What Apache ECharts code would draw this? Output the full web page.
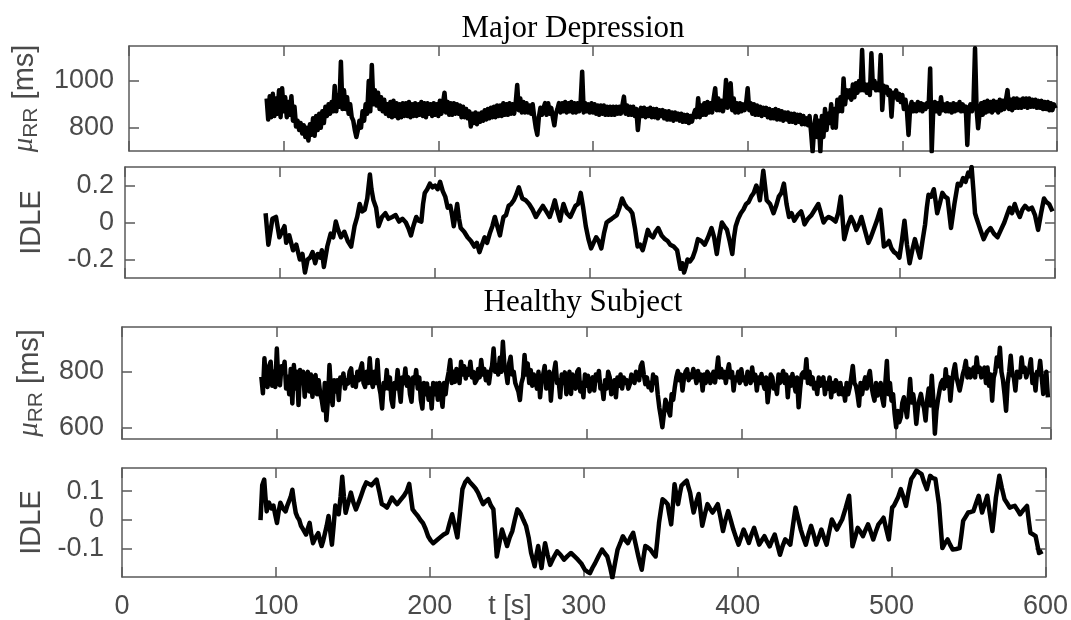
<!DOCTYPE html>
<html><head><meta charset="utf-8">
<script src="https://cdn.jsdelivr.net/npm/echarts@6/dist/echarts.min.js"></script>
<style>html,body{margin:0;padding:0;background:#fff}#c{width:1071px;height:620px}</style>
</head><body><div id="c"></div>
<script>
// ---------------- data ----------------
const titles = ['Major Depression', 'Healthy Subject'];
const xLabel = 't [s]';
const xTicks = [0, 100, 200, 300, 400, 500, 600];
const yTicksMu1 = [800, 1000];
const yTicksIdle1 = [-0.2, 0, 0.2];
const yTicksMu2 = [600, 800];
const yTicksIdle2 = [-0.1, 0, 0.1];
const yRangeMu1 = [700, 1150];
const yRangeIdle1 = [-0.3, 0.3];
const yRangeMu2 = [560, 960];
const yRangeIdle2 = [-0.197, 0.18];

// Major Depression, mu_RR [ms], one value per second starting at t = 89 s
const mdMuStart = 89;
const mdMu = [
925,835,935,845,945,850,925,860,960,845,
969,870,930,845,910,855,935,830,890,805,
830,790,820,775,810,760,800,745,815,770,
840,765,850,790,860,800,870,820,890,850,
900,860,910,870,979,870,940,890,1083,880,
960,880,930,860,900,845,830,790,760,790,
830,800,870,830,900,860,1000,870,1069,900,
960,895,950,880,930,870,920,860,900,850,
910,845,915,850,905,840,900,845,905,850,
905,850,910,845,900,850,905,850,900,855,
910,850,905,845,905,860,900,850,905,855,
900,850,915,860,905,950,865,910,855,905,
855,905,860,900,860,895,845,890,845,880,
840,870,805,860,820,865,815,860,825,865,
830,875,835,880,840,885,845,890,845,895,
850,895,850,905,855,900,855,905,860,900,
860,905,983,875,925,865,910,865,905,865,
895,860,900,845,800,769,845,885,855,885,
905,855,905,860,885,845,810,860,880,905,
865,905,870,910,865,905,870,910,865,905,
865,905,870,910,1040,865,905,870,900,865,
905,865,900,860,895,855,895,860,895,855,
890,855,890,855,890,855,890,860,890,860,
895,933,860,895,855,890,855,890,850,880,
790,860,885,850,885,845,880,850,885,845,
880,845,880,840,875,850,875,840,870,835,
870,835,865,830,865,835,860,830,860,825,
855,825,855,820,850,826,855,875,845,926,
845,895,855,905,855,910,865,905,865,925,
969,875,925,875,915,870,905,1004,885,925,
990,875,925,865,905,865,905,870,900,875,
905,969,875,905,860,900,855,895,855,890,
850,885,855,885,845,880,840,875,840,880,
835,875,835,870,830,865,835,865,825,860,
825,860,820,855,825,855,815,850,815,840,
810,850,780,697,800,850,760,830,697,850,
760,880,790,860,820,900,800,880,800,920,
870,930,870,1011,900,960,930,960,920,985,
930,990,950,1000,960,1133,960,985,950,985,
940,1119,970,1000,960,990,960,1111,876,980,
950,975,940,960,847,950,930,960,920,945,
910,940,880,920,870,769,880,910,870,900,
870,910,875,905,870,900,880,905,890,1054,
697,880,910,870,905,860,930,875,900,870,
905,870,900,865,905,870,900,875,910,870,
900,870,890,726,880,900,870,905,1140,880,
797,865,905,855,910,865,915,870,910,865,
915,875,910,865,920,875,915,880,920,961,
880,920,875,925,885,925,885,920,885,925,
890,925,885,925,890,920,890,920,885,915,
885,915,880,910,880,910,875,905,875,900,
883];

// Major Depression, IDLE  ([t, value])
const mdIdle = [[90.7,0.05],[92.5,-0.12],[95.1,0.02],[97.4,0.03],[99.6,-0.08],[102.9,-0.02],[104,-0.11],[106,-0.07],[108.4,-0.15],[110.5,-0.12],[112.8,-0.2],[114.5,-0.17],[116.1,-0.27],[117.8,-0.2],[119.4,-0.19],[121,-0.16],[122.7,-0.22],[124.3,-0.17],[126,-0.19],[127,-0.15],[128.3,-0.24],[130.5,-0.13],[132.7,-0.06],[134.3,-0.08],[136,0.005],[137.5,-0.04],[139.3,-0.08],[141.5,-0.05],[143.7,-0.1],[145.9,-0.13],[148.1,-0.02],[149.8,0.03],[151.4,0.1],[153,0.06],[154.7,0.07],[156.3,0.13],[158,0.26],[159,0.18],[160.3,0.12],[162,0.08],[163.6,-0.02],[165.8,0.03],[168,0.05],[170,0.02],[172.4,0.03],[174.6,0.04],[176.8,0.005],[179,0.02],[181.2,0],[182.8,-0.03],[184.5,-0.07],[186,-0.02],[187.9,0.03],[189.5,0.01],[191.2,0.005],[192.3,0.1],[193.4,0.16],[195,0.18],[196.7,0.21],[198.3,0.19],[200,0.2],[201.7,0.18],[203.3,0.22],[205,0.17],[206.6,0.14],[208.2,0.08],[209.9,0.09],[211,0.04],[212.1,-0.02],[213.2,0.04],[214.3,0.1],[215.5,0.02],[216.6,-0.03],[218.8,-0.05],[221,-0.08],[223.2,-0.1],[225.4,-0.13],[227,-0.11],[228.7,-0.16],[230.3,-0.12],[232,-0.08],[233.6,-0.11],[235.3,-0.06],[237,-0.02],[238.6,0.03],[240.2,-0.02],[241.9,-0.07],[243,-0.02],[244.2,0.03],[245.8,0.04],[247.5,0.09],[249.1,0.1],[250.8,0.12],[252.4,0.15],[254.1,0.19],[255.2,0.16],[256.3,0.13],[258.5,0.12],[260.7,0.1],[262.9,0.07],[265.1,0.03],[267.3,0.06],[269.6,0.09],[271.8,0.06],[274,0.03],[275.6,0.07],[277.3,0.12],[279,0.06],[280.7,0.01],[281.8,0.06],[282.9,0.1],[285,0.05],[287.3,0.03],[290.6,0.09],[292.3,0.1],[294,0.16],[295.6,0.08],[297.3,-0.02],[299,-0.09],[300.7,-0.14],[302.3,-0.11],[304,-0.08],[305.6,-0.1],[307.3,-0.14],[309,-0.06],[310.7,0],[312.3,0.01],[314,0.02],[315.6,0.03],[317.3,0.04],[319,0.08],[320.7,0.13],[322.3,0.1],[324,0.08],[325.6,0.07],[327.3,0.05],[329,-0.03],[330.7,-0.13],[332.3,-0.12],[334,-0.15],[335.6,-0.1],[337.3,-0.04],[339,-0.07],[340.7,-0.08],[342.3,-0.05],[344,-0.03],[346.2,-0.07],[348.4,-0.09],[350.1,-0.1],[351.8,-0.12],[354,-0.13],[356.2,-0.15],[357.3,-0.2],[358.4,-0.25],[359.5,-0.22],[360.7,-0.27],[361.8,-0.24],[362.9,-0.2],[364.5,-0.21],[366.2,-0.19],[367.9,-0.15],[369.6,-0.09],[371.8,-0.1],[374,-0.12],[376.2,-0.08],[378.4,-0.03],[380.1,-0.08],[381.8,-0.17],[383.5,-0.07],[385.1,0],[386.7,-0.02],[388.4,-0.04],[390.1,-0.1],[391.8,-0.17],[392.9,-0.08],[394,-0.02],[395.6,0.02],[397.3,0.05],[399,0.07],[400.7,0.1],[402.3,0.11],[404,0.14],[405.6,0.16],[407.3,0.2],[408.5,0.17],[409.6,0.12],[410.7,0.2],[411.8,0.28],[412.9,0.2],[414,0.12],[416.2,0.1],[418.4,0.05],[420.1,0.09],[421.8,0.14],[423.5,0.16],[425.1,0.21],[426.8,0.1],[428.4,0.03],[430.1,0.05],[431.8,0.01],[434,0.04],[436.2,0.06],[437.3,0.03],[438.4,-0.01],[440.6,0.02],[442.9,0.04],[445.1,0.07],[447.3,0.1],[449,0.05],[450.7,0],[452.3,0.02],[454,0.03],[456.2,0.02],[458.4,0.005],[460.1,0.05],[461.8,0.14],[462.9,0.03],[464,-0.09],[466.2,-0.02],[468.4,0.03],[470.1,0],[471.8,-0.04],[473.5,-0.01],[475.1,0.03],[477.3,-0.04],[479.6,-0.11],[481.2,-0.08],[482.9,-0.04],[485.1,0.01],[487.3,0.07],[488.5,-0.03],[489.6,-0.13],[491.2,-0.12],[492.9,-0.1],[494.5,-0.14],[496.2,-0.16],[497.9,-0.17],[499.6,-0.19],[501.2,-0.1],[502.9,0.01],[504.5,-0.12],[506.2,-0.22],[507.9,-0.15],[509.6,-0.09],[511.2,-0.14],[512.9,-0.19],[514.5,-0.1],[516.2,-0.01],[517.3,0.08],[518.4,0.15],[520.1,0.14],[521.8,0.18],[522.9,0.12],[524,0.05],[525.6,0.1],[527.3,0.16],[529,0.14],[530.7,0.13],[531.8,0.05],[532.9,-0.03],[535.1,0.1],[537.3,0.21],[539,0.2],[540.7,0.24],[542.3,0.22],[544,0.27],[545.1,0.25],[546.2,0.3],[547.3,0.18],[548.4,0.05],[549.5,0.02],[550.7,-0.01],[552.3,-0.05],[554,-0.09],[556.2,-0.05],[558.4,-0.03],[560.6,-0.06],[562.9,-0.08],[565.1,-0.04],[567.3,0],[569,0.04],[570.7,0.08],[572.3,0.05],[574,0.1],[575.6,0.06],[577.3,0.03],[579,0.07],[580.7,0.09],[582.9,0.07],[585.1,0.08],[587.1,0.04],[589.1,-0.04],[591,0.05],[592.9,0.13],[594.5,0.11],[596.2,0.1],[598.4,0.06]];

// Healthy Subject, mu_RR [ms], one value per second starting at t = 90 s
const hsMuStart = 90;
const hsMu = [
782,723,848,760,746,820,836,750,800,746,
883,760,752,820,800,836,740,782,720,810,
687,824,740,800,681,806,760,800,711,780,
800,730,790,711,780,788,720,770,723,700,
663,760,627,700,824,730,681,770,730,770,
699,780,760,794,740,770,758,800,812,750,
780,746,800,770,810,830,760,746,800,760,
848,770,746,800,760,842,750,720,669,760,
740,806,740,780,700,675,760,740,806,740,
693,780,760,812,750,780,720,693,780,760,
806,740,780,700,669,760,720,758,700,740,
669,760,720,758,700,760,720,675,760,720,
770,800,842,760,800,764,810,790,760,836,
790,820,776,810,790,836,780,800,760,770,
810,780,842,790,810,770,800,758,800,820,
883,800,824,790,850,800,907,820,800,760,
830,854,790,800,760,758,730,699,760,780,
860,790,830,760,806,750,790,770,740,800,
709,770,790,821,740,760,800,697,770,800,
833,760,770,709,790,760,798,720,760,800,
721,790,770,740,800,809,730,760,709,790,
750,786,730,760,780,733,790,770,803,740,
750,703,770,740,800,780,720,740,770,709,
780,750,790,740,780,760,770,740,756,790,
780,760,800,803,770,820,833,790,756,780,
745,760,733,790,760,780,720,673,640,602,
650,700,685,660,644,720,700,744,780,803,
770,790,733,780,800,809,770,790,780,810,
790,760,803,770,790,733,790,760,800,792,
760,775,800,762,800,851,780,810,780,800,
760,800,827,780,800,733,780,770,800,760,
809,770,780,756,800,790,760,815,770,790,
733,780,760,792,760,740,780,691,740,790,
780,740,750,721,790,760,780,803,760,790,
709,780,750,792,760,730,780,673,740,790,
798,780,845,760,800,756,780,740,760,721,
780,750,770,780,720,760,740,780,709,760,
730,770,756,720,760,720,740,697,760,720,
744,780,821,760,750,720,679,760,720,756,
780,740,780,803,750,720,697,760,715,733,
760,705,679,760,839,720,760,697,720,650,
602,660,620,638,690,709,670,638,700,774,
690,720,680,614,670,700,721,690,670,626,
700,740,680,786,700,579,660,700,733,760,
770,740,809,750,780,697,760,800,827,780,
780,733,760,790,810,839,780,810,780,800,
815,780,851,800,815,780,800,815,760,815,
750,790,697,780,800,851,820,886,800,770,
720,661,760,800,857,790,780,733,800,790,
780,851,800,815,780,800,810,845,760,790,
733,800,790,839,780,721,760,800,709];

// Healthy Subject, IDLE  ([t, value])
const hsIdle = [[90,0],[91.1,0.12],[92.4,0.14],[93.2,0.08],[94,0.03],[94.8,0.05],[95.5,0.06],[97,0.04],[98.4,0.05],[99.5,0.02],[100.7,-0.01],[101.8,0.03],[102.9,0.06],[104.6,0.04],[106.3,0.03],[107.4,0.05],[108.5,0.055],[109.6,0.08],[110.7,0.105],[111.8,0.06],[112.9,0.025],[114,0.01],[115.2,0],[116.3,-0.02],[117.4,-0.03],[118.5,-0.04],[119.6,-0.05],[120.7,-0.03],[121.9,-0.01],[123,-0.05],[124.1,-0.08],[125.8,-0.06],[127.5,-0.045],[128.6,-0.07],[129.7,-0.09],[130.8,-0.07],[131.9,-0.045],[133,-0.02],[134.2,0.014],[135.3,-0.04],[136.4,-0.085],[137.5,-0.02],[138.6,0.05],[139.7,0.04],[140.8,0.02],[142,0.08],[143.1,0.15],[144.2,0.08],[145.3,0.025],[147,0.06],[148.7,0.095],[150.4,0.06],[152,0.037],[153.7,0.06],[155.4,0.085],[157,0.11],[158.7,0.13],[160.4,0.125],[162.1,0.12],[163.7,0.13],[165.4,0.14],[167.1,0.1],[168.8,0.055],[170.5,0.05],[172.1,0.043],[173.8,0.06],[175.4,0.078],[177.1,0.065],[178.8,0.055],[181,0.07],[183.3,0.085],[185,0.1],[186.6,0.125],[187.7,0.08],[188.8,0.037],[190.5,0.025],[192.2,0.014],[193.9,0],[195.5,-0.01],[197.2,-0.03],[198.9,-0.056],[200.5,-0.07],[202.2,-0.08],[204.5,-0.07],[206.7,-0.06],[209,-0.05],[211.2,-0.044],[212.9,-0.01],[214.5,0.02],[216.2,-0.02],[217.9,-0.06],[219.5,0.02],[221.2,0.107],[222.9,0.13],[224.6,0.142],[226.2,0.13],[227.9,0.12],[229.6,0.11],[231.3,0.095],[232.9,0.075],[234.6,0.055],[236.3,0.065],[238,0.072],[239.7,0.05],[241.3,0.037],[242.4,-0.04],[243.5,-0.126],[245.2,-0.08],[246.9,-0.033],[248.5,-0.06],[250.2,-0.09],[251.9,-0.06],[253.6,-0.038],[255.2,0],[256.9,0.037],[258,0.03],[259.2,0.02],[260.8,0],[262.5,-0.02],[264.2,-0.06],[265.8,-0.114],[267,-0.137],[268.1,-0.16],[269.3,-0.12],[270.4,-0.09],[271.5,-0.13],[272.6,-0.166],[273.7,-0.12],[274.9,-0.08],[276.5,-0.12],[278.2,-0.155],[280.4,-0.13],[282.7,-0.108],[284.9,-0.12],[287.2,-0.137],[289.4,-0.125],[291.7,-0.114],[293.9,-0.125],[296.2,-0.137],[298.4,-0.15],[300.7,-0.172],[302.3,-0.178],[304,-0.184],[305.7,-0.165],[307.4,-0.149],[309.6,-0.125],[311.9,-0.102],[313.6,-0.115],[315.3,-0.126],[317,-0.16],[318.6,-0.2],[320.3,-0.15],[322,-0.102],[323.7,-0.08],[325.4,-0.056],[327,-0.07],[328.7,-0.08],[330.4,-0.06],[332.1,-0.044],[333.8,-0.085],[335.5,-0.126],[336.6,-0.15],[337.7,-0.172],[338.8,-0.13],[340,-0.09],[341.6,-0.095],[343.3,-0.102],[345,-0.115],[346.7,-0.126],[347.8,-0.07],[348.9,-0.01],[350,0.03],[351.2,0.072],[352.8,0.065],[354.5,0.055],[355.6,0.02],[356.8,-0.015],[357.9,0.05],[359,0.124],[360.1,0.09],[361.3,0.055],[362.4,0.09],[363.5,0.119],[365.2,0.128],[366.9,0.136],[368,0.115],[369.1,0.095],[370.2,0.06],[371.4,0.026],[373,0.06],[374.7,0.09],[375.8,0.035],[377,-0.02],[378.7,0.02],[380.4,0.055],[382,0.04],[383.7,0.026],[385.4,0.04],[387.1,0.055],[388.8,0.01],[390.5,-0.038],[392.1,0],[393.8,0.031],[395.5,0],[397.2,-0.033],[398.9,-0.06],[400.6,-0.085],[402.2,-0.06],[403.9,-0.033],[405.6,-0.055],[407.3,-0.079],[409,-0.05],[410.7,-0.027],[412.3,-0.055],[414,-0.085],[415.7,-0.07],[417.4,-0.056],[419.1,-0.075],[420.8,-0.091],[422.4,-0.07],[424.1,-0.05],[425.8,-0.085],[427.5,-0.12],[429.2,-0.09],[430.9,-0.067],[432.5,-0.075],[434.2,-0.085],[435.9,-0.02],[437.6,0.043],[439.3,0.005],[441,-0.033],[442.6,-0.06],[444.3,-0.085],[446,-0.05],[447.7,-0.02],[449.4,-0.05],[451.1,-0.085],[452.7,-0.06],[454.4,-0.033],[456.1,-0.06],[457.8,-0.085],[459.5,-0.04],[461.2,0.002],[462.8,-0.015],[464.5,-0.033],[466.2,-0.015],[467.9,0.002],[470.1,0.04],[472.4,0.084],[473.5,0],[474.6,-0.091],[476.3,-0.06],[478,-0.027],[479.7,-0.04],[481.4,-0.056],[483,-0.035],[484.7,-0.015],[486.4,-0.04],[488.1,-0.067],[489.8,-0.04],[491.5,-0.015],[493.1,-0.005],[494.8,0.008],[496.5,-0.03],[498.2,-0.067],[499.3,-0.01],[500.4,0.043],[501.6,0.05],[502.7,0.055],[504.3,0.08],[506,0.107],[507.7,0.08],[509.4,0.049],[511.1,0.1],[512.8,0.142],[514.5,0.155],[516.2,0.171],[517.8,0.165],[519.5,0.159],[521.2,0.13],[522.9,0.107],[524,0.13],[525.1,0.153],[526.8,0.145],[528.5,0.142],[529.6,0.1],[530.8,0.055],[531.9,-0.02],[533,-0.097],[534.7,-0.08],[536.4,-0.067],[538,-0.085],[539.7,-0.102],[542,-0.1],[544.2,-0.097],[545.4,-0.05],[546.5,-0.003],[548.2,0.012],[549.8,0.026],[551.5,0.028],[553.2,0.031],[554.9,0.058],[556.6,0.084],[557.7,0.055],[558.8,0.026],[560.5,0.055],[562.2,0.084],[563.9,0.02],[565.5,-0.038],[566.7,0.02],[567.8,0.078],[568.9,0.115],[570,0.153],[571.7,0.11],[573.4,0.072],[575.1,0.058],[576.8,0.043],[578.4,0.046],[580.1,0.049],[581.8,0.035],[583.5,0.02],[585.7,0.035],[588,0.049],[589.1,0],[590.2,-0.044],[591.9,-0.05],[593.6,-0.056],[594.7,-0.085],[595.8,-0.114],[597,-0.11],[598.1,-0.108]];

// ---------------- chart ----------------
const TXT = '#4a4a4a', AX = '#5a5a5a';
const SANS = '"Liberation Sans", Arial, sans-serif';
const SERIF = '"Liberation Serif", "Times New Roman", serif';

const withTime = (start, vals) => vals.map((v, k) => [start + k, v]);

const panels = [
  {grid: {left: 129, top: 46, width: 928, height: 105}, data: withTime(mdMuStart, mdMu), range: yRangeMu1, ticks: yTicksMu1, name: 'mu', gap: 76, margin: 15},
  {grid: {left: 125, top: 167, width: 930, height: 111}, data: mdIdle, range: yRangeIdle1, ticks: yTicksIdle1, name: 'IDLE', gap: 78, margin: 11},
  {grid: {left: 122, top: 327, width: 929, height: 112}, data: withTime(hsMuStart, hsMu), range: yRangeMu2, ticks: yTicksMu2, name: 'mu', gap: 68, margin: 18},
  {grid: {left: 122, top: 468, width: 924, height: 109}, data: hsIdle, range: yRangeIdle2, ticks: yTicksIdle2, name: 'IDLE', gap: 72, margin: 18}
];

const axLine = {show: true, onZero: false, lineStyle: {color: AX, width: 1.5}};
const fmt = v => String(v);
const grid = [], xAxis = [], yAxis = [], series = [];
panels.forEach((p, i) => {
  grid.push(Object.assign({containLabel: false}, p.grid));
  const last = i === panels.length - 1;
  ['bottom', 'top'].forEach(pos => {
    xAxis.push({
      type: 'value', gridIndex: i, position: pos, min: xTicks[0], max: xTicks[xTicks.length - 1],
      axisLine: axLine, splitLine: {show: false},
      axisTick: {show: true, inside: true, length: 10, lineStyle: {color: AX, width: 1.5}, customValues: xTicks},
      axisLabel: {show: last && pos === 'bottom', customValues: xTicks, margin: 16, formatter: fmt,
        fontSize: 27, fontFamily: SANS, color: TXT}
    });
  });
  ['left', 'right'].forEach(pos => {
    const y = {
      type: 'value', gridIndex: i, position: pos, min: p.range[0], max: p.range[1],
      axisLine: axLine, splitLine: {show: false},
      axisTick: {show: true, inside: true, length: 10, lineStyle: {color: AX, width: 1.5}, customValues: p.ticks},
      axisLabel: {show: pos === 'left', customValues: p.ticks, margin: p.margin, formatter: fmt,
        fontSize: 27, fontFamily: SANS, color: TXT}
    };
    if (pos === 'left') {
      y.nameLocation = 'middle';
      y.nameRotate = 90;
      y.nameGap = p.gap;
      if (p.name === 'mu') {
        y.name = '{mu|μ}{sub|RR}{n| [ms]}';
        y.nameTextStyle = {
          rich: {
            mu: {fontSize: 29, fontStyle: 'italic', fontFamily: SERIF, color: TXT, lineHeight: 30, padding: [0, 0, 4, 0]},
            sub: {fontSize: 21, fontFamily: SANS, color: TXT, lineHeight: 22, verticalAlign: 'bottom'},
            n: {fontSize: 29, fontFamily: SANS, color: TXT, lineHeight: 30, padding: [0, 0, 4, 0]}
          }
        };
      } else {
        y.name = p.name;
        y.nameTextStyle = {fontSize: 29, fontFamily: SANS, color: TXT, lineHeight: 30};
      }
    }
    yAxis.push(y);
  });
  series.push({
    type: 'line', xAxisIndex: 2 * i, yAxisIndex: 2 * i, data: p.data,
    showSymbol: false, symbol: 'none', clip: true,
    lineStyle: {color: '#000', width: 4.5, join: 'round'}
  });
});

const chart = echarts.init(document.getElementById('c'), null, {renderer: 'canvas'});
chart.setOption({
  animation: false,
  backgroundColor: '#fff',
  grid, xAxis, yAxis, series,
  graphic: [
    {type: 'text', x: 573, y: 29, style: {text: titles[0], font: '31px ' + SERIF, fill: '#000', align: 'center', verticalAlign: 'middle'}},
    {type: 'text', x: 583, y: 303, style: {text: titles[1], font: '31px ' + SERIF, fill: '#000', align: 'center', verticalAlign: 'middle'}},
    {type: 'text', x: 510, y: 607, style: {text: xLabel, font: '27px ' + SANS, fill: TXT, align: 'center', verticalAlign: 'middle'}}
  ]
});
</script>
</body></html>
